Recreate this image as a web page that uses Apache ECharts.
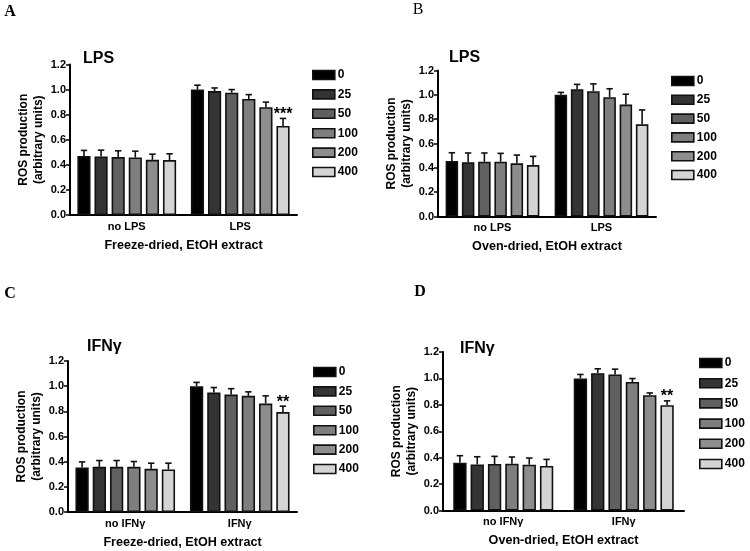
<!DOCTYPE html>
<html>
<head>
<meta charset="utf-8">
<script src="https://cdn.jsdelivr.net/npm/echarts@6/dist/echarts.min.js"></script>
<style>html,body{margin:0;padding:0;background:#fff}#c{width:750px;height:551px}</style>
</head>
<body>
<div id="c"></div>
<script>
// ---- data ----
const doses = ['0', '25', '50', '100', '200', '400'];
const yTicks = ['0.0', '0.2', '0.4', '0.6', '0.8', '1.0', '1.2'];

const catsA = ['no LPS', 'LPS'];
const aNo = [0.47, 0.467, 0.462, 0.459, 0.44, 0.438];
const aNoSem = [0.045, 0.05, 0.05, 0.05, 0.045, 0.05];
const aStim = [1.0, 0.988, 0.975, 0.925, 0.86, 0.71];
const aStimSem = [0.035, 0.025, 0.025, 0.035, 0.04, 0.06];
const aStars = ['', '', '', '', '', '***'];

const catsB = ['no LPS', 'LPS'];
const bNo = [0.456, 0.445, 0.45, 0.45, 0.437, 0.423];
const bNoSem = [0.068, 0.077, 0.072, 0.069, 0.068, 0.071];
const bStim = [1.0, 1.046, 1.03, 0.98, 0.92, 0.758];
const bStimSem = [0.02, 0.04, 0.06, 0.07, 0.085, 0.118];
const bStars = ['', '', '', '', '', ''];

const catsC = ['no IFNγ', 'IFNγ'];
const cNo = [0.353, 0.359, 0.359, 0.359, 0.343, 0.338];
const cNoSem = [0.045, 0.05, 0.05, 0.042, 0.045, 0.05];
const cStim = [1.0, 0.949, 0.933, 0.923, 0.862, 0.794];
const cStimSem = [0.03, 0.04, 0.047, 0.032, 0.061, 0.047];
const cStars = ['', '', '', '', '', '**'];

const catsD = ['no IFNγ', 'IFNγ'];
const dNo = [0.362, 0.349, 0.352, 0.354, 0.347, 0.337];
const dNoSem = [0.053, 0.058, 0.058, 0.051, 0.05, 0.05];
const dStim = [1.0, 1.04, 1.03, 0.973, 0.873, 0.797];
const dStimSem = [0.03, 0.033, 0.04, 0.026, 0.017, 0.033];
const dStars = ['', '', '', '', '', '**'];

const titles = ['LPS', 'LPS', 'IFNγ', 'IFNγ'];
const xNames = ['Freeze-dried, EtOH extract', 'Oven-dried, EtOH extract', 'Freeze-dried, EtOH extract', 'Oven-dried, EtOH extract'];
const yName = 'ROS production\n(arbitrary units)';
const letters = ['A', 'B', 'C', 'D'];

// ---- styles / layout ----
const colors = ['#000000', '#343434', '#606060', '#7e7e7e', '#8d8d8d', '#d4d4d4'];
const FONT = '"Liberation Sans", Arial, sans-serif';
const SERIF = '"Liberation Serif", "Times New Roman", serif';

const grids = [
  {left: 70, top: 64.5, width: 227, height: 150.5},
  {left: 438, top: 70.5, width: 218, height: 146},
  {left: 68, top: 361, width: 229, height: 151},
  {left: 443, top: 352, width: 241, height: 158.5}
];
const catGaps = [0.13, 0.14, 0.13, 0.17];
const barGapFrac = 0.30;
const titlePos = [[83, 51], [449, 50], [87, 339], [460, 341]];
const legendPos = [[312, 69, 7.4], [671, 75, 6.8], [313, 366, 7.4], [699, 357, 8.2]];
const letterPos = [[10, 12, 'bold'], [418, 10, 'normal'], [10, 294, 'bold'], [420, 292, 'bold']];

const panels = [
  {cats: catsA, no: aNo, noSem: aNoSem, stim: aStim, stimSem: aStimSem, stars: aStars},
  {cats: catsB, no: bNo, noSem: bNoSem, stim: bStim, stimSem: bStimSem, stars: bStars},
  {cats: catsC, no: cNo, noSem: cNoSem, stim: cStim, stimSem: cStimSem, stars: cStars},
  {cats: catsD, no: dNo, noSem: dNoSem, stim: dStim, stimSem: dStimSem, stars: dStars}
];

const chart = echarts.init(document.getElementById('c'), null, {renderer: 'canvas'});

const xAxes = [], yAxes = [], series = [], legends = [], titleComps = [], graphics = [];

panels.forEach((p, k) => {
  xAxes.push({
    type: 'category', gridIndex: k, data: p.cats,
    axisLine: {lineStyle: {color: '#000', width: 2}},
    axisTick: {alignWithLabel: true, length: 4, lineStyle: {color: '#000', width: 1.5}},
    axisLabel: {color: '#000', fontFamily: FONT, fontWeight: 'bold', fontSize: 11, margin: 6},
    name: xNames[k], nameLocation: 'middle', nameGap: 24,
    nameTextStyle: {color: '#000', fontFamily: FONT, fontWeight: 'bold', fontSize: 12.6}
  });
  yAxes.push({
    type: 'value', gridIndex: k, min: 0, max: 1.2, interval: 0.2,
    splitLine: {show: false},
    axisLine: {show: true, lineStyle: {color: '#000', width: 2}},
    axisTick: {show: true, length: 4, lineStyle: {color: '#000', width: 1.5}},
    axisLabel: {color: '#000', fontFamily: FONT, fontWeight: 'bold', fontSize: 11, margin: 4,
      formatter: v => yTicks[Math.round(v / 0.2)]},
    name: yName, nameLocation: 'middle', nameRotate: 90, nameGap: 24,
    nameTextStyle: {color: '#000', fontFamily: FONT, fontWeight: 'bold', fontSize: 12, lineHeight: 15}
  });
  doses.forEach((d, i) => {
    series.push({
      type: 'bar', name: d, xAxisIndex: k, yAxisIndex: k,
      data: [p.no[i], p.stim[i]],
      barCategoryGap: (catGaps[k] * 100) + '%', barGap: (barGapFrac * 100) + '%',
      itemStyle: {color: colors[i], borderColor: '#111', borderWidth: 1.6},
      emphasis: {disabled: true}, z: 2
    });
  });
  const errData = [];
  for (let c = 0; c < 2; c++) {
    for (let i = 0; i < 6; i++) {
      const mean = c === 0 ? p.no[i] : p.stim[i];
      const sem = c === 0 ? p.noSem[i] : p.stimSem[i];
      errData.push([c, i, mean, sem, c === 1 && p.stars[i] ? i : -1]);
    }
  }
  const gapK = catGaps[k];
  const stars = p.stars;
  series.push({
    type: 'custom', xAxisIndex: k, yAxisIndex: k, z: 5, silent: true,
    data: errData,
    encode: {x: 0, y: 2},
    renderItem: (params, api) => {
      const c = api.value(0), i = api.value(1), mean = api.value(2), sem = api.value(3);
      const band = api.size([1, 0])[0];
      const usable = band * (1 - gapK);
      const bw = usable / (6 + 5 * barGapFrac);
      const center = api.coord([c, 0])[0];
      const x = center - usable / 2 + i * bw * (1 + barGapFrac) + bw / 2;
      const yb = api.coord([c, mean])[1];
      const yt = api.coord([c, mean + sem])[1];
      const children = [
        {type: 'line', shape: {x1: x, y1: yb, x2: x, y2: yt}, style: {stroke: '#111', lineWidth: 1.6}},
        {type: 'line', shape: {x1: x - 3.2, y1: yt, x2: x + 3.2, y2: yt}, style: {stroke: '#111', lineWidth: 1.6}}
      ];
      const si = api.value(4);
      if (si >= 0 && stars[si]) {
        children.push({type: 'text', x: x, y: yt - 4,
          style: {text: stars[si], fill: '#000', font: 'bold 16px ' + FONT, textAlign: 'center', textVerticalAlign: 'middle'}});
      }
      return {type: 'group', children: children};
    }
  });
  const lp = legendPos[k];
  legends.push({
    orient: 'vertical', left: lp[0], top: lp[1], padding: 0,
    itemWidth: 22, itemHeight: 9, itemGap: lp[2], icon: 'rect',
    data: doses.slice(), selectedMode: false,
    itemStyle: {borderColor: '#111', borderWidth: 1.6},
    textStyle: {color: '#000', fontFamily: FONT, fontWeight: 'bold', fontSize: 12, lineHeight: 10, padding: [0, 0, 0, -2]}
  });
  titleComps.push({
    text: titles[k], left: titlePos[k][0], top: titlePos[k][1], padding: 0,
    textStyle: {color: '#000', fontFamily: FONT, fontWeight: 'bold', fontSize: 16}
  });
  graphics.push({
    type: 'text', x: letterPos[k][0], y: letterPos[k][1],
    style: {text: letters[k], fill: '#000', font: letterPos[k][2] + ' 16px ' + SERIF, textAlign: 'center', textVerticalAlign: 'middle'}
  });
});

chart.setOption({
  animation: false,
  backgroundColor: '#fff',
  title: titleComps,
  legend: legends,
  grid: grids,
  xAxis: xAxes,
  yAxis: yAxes,
  series: series,
  graphic: graphics
});
</script>
</body>
</html>
